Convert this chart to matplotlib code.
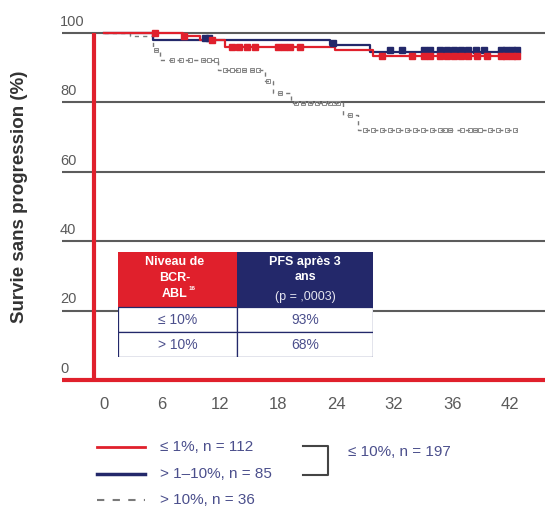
import numpy as np
import matplotlib
matplotlib.use("Agg")
import matplotlib.pyplot as plt
from matplotlib.patches import Rectangle
from matplotlib.lines import Line2D
import matplotlib.transforms as mtransforms

plt.rcParams['font.family'] = ['Liberation Sans', 'DejaVu Sans']

# ---------------- data ----------------
x_tick_pos = [0, 6, 12, 18, 24, 30, 36, 42]
x_tick_labels = ["0", "6", "12", "18", "24", "32", "36", "42"]
y_ticks = [0, 20, 40, 60, 80, 100]

red_t = [0, 8.2, 9.9, 12.5, 23.9, 27.8, 42.7]
red_s = [100, 99.0, 98.0, 96.0, 95.2, 93.4, 93.4]
blue_t = [0, 5.1, 23.4, 27.5, 42.7]
blue_s = [100, 98.0, 96.6, 94.6, 94.6]
gray_t = [0, 2.7, 5.1, 5.8, 11.8, 16.6, 17.5, 19.3, 24.7, 26.3, 42.7]
gray_s = [100, 99.0, 95.0, 92.2, 89.3, 86.2, 82.8, 79.8, 76.4, 72.0, 72.0]

red_cens = [5.3, 8.3, 11.2, 13.2, 14.0, 14.8, 15.6, 18.0, 18.6, 19.2, 20.3, 28.7,
            31.9, 33.1, 33.7, 34.7, 35.5, 36.2, 36.9, 37.6, 38.6, 39.6, 41.0, 41.6, 42.2, 42.7]
blue_cens = [10.4, 10.9, 23.7, 29.6, 30.8, 33.1, 33.7, 34.7, 35.5, 36.2, 36.9, 37.6,
             38.5, 39.3, 41.0, 41.6, 42.2, 42.7]
gray_cens = [5.4, 7.0, 8.0, 8.9, 10.2, 10.9, 11.6, 12.5, 13.2, 13.9, 14.5, 15.3, 15.9, 17.0,
             18.2, 19.9, 20.6, 21.3, 22.0, 22.8, 23.4, 23.8, 24.2, 25.4, 27.0, 27.8, 28.7,
             29.6, 30.4, 31.3, 32.2, 33.0, 33.9, 34.7, 35.3, 35.8, 37.0, 37.8, 38.4, 38.9,
             39.9, 40.7, 41.7, 42.5]

legend_labels = ["\u2264 1%, n = 112", "> 1\u201310%, n = 85", "> 10%, n = 36"]
bracket_label = "\u2264 10%, n = 197"

header_left = ["Niveau de", "BCR-", "ABL"]
header_left_sup = "16"
header_right = ["PFS apr\u00e8s 3", "ans", "(p = ,0003)"]
table_rows = [["\u2264 10%", "93%"], ["> 10%", "68%"]]

RED = "#e0202c"
NAVY = "#23286a"
GRAY = "#7a7a7a"
TXT = "#4b4f8c"

W, H = 545, 507
fig = plt.figure(figsize=(W / 100, H / 100), dpi=100)

def fx(px):
    return px / W

def fy(py):
    return 1 - py / H

ax = fig.add_axes([fx(62), fy(383), (545 - 62) / W, (383 - 28) / H])
ax.set_xlim(-4.34, 45.6)
ax.set_ylim(-0.86, 101.44)
for sp in ax.spines.values():
    sp.set_visible(False)

for yv in y_ticks[1:]:
    ax.axhline(yv, color="#5c5c5c", lw=1.5, zorder=1)
ax.axhline(0, color=RED, lw=3, zorder=5)
ax.plot([-1.03, -1.03], [0, 100], color=RED, lw=3, zorder=5, solid_capstyle='butt')

def step_val(t, s, x):
    idx = np.searchsorted(np.asarray(t), np.asarray(x), side='right') - 1
    return np.asarray(s)[idx]

ax.step(gray_t, gray_s, where='post', color=GRAY, lw=1.0, ls=(0, (3, 3)), zorder=3, clip_on=False)
ax.plot(gray_cens, step_val(gray_t, gray_s, gray_cens), ls='none', marker='s', ms=2.5,
        mfc='none', mec='#8a8a8a', mew=0.7, zorder=3)
ax.step(blue_t, blue_s, where='post', color=NAVY, lw=1.6, zorder=4, clip_on=False)
ax.step(red_t, red_s, where='post', color=RED, lw=1.6, zorder=4, clip_on=False)
ax.plot(blue_cens, step_val(blue_t, blue_s, blue_cens) + 0.5, ls='none', marker='s', ms=4.5,
        color=NAVY, zorder=4)
ax.plot(red_cens, step_val(red_t, red_s, red_cens), ls='none', marker='s', ms=4.5,
        color=RED, zorder=5)

ax.set_xticks(x_tick_pos)
ax.set_xticklabels(x_tick_labels, fontsize=12, color="#5a5a5a")
ax.tick_params(axis='x', length=0, pad=10)
ax.set_yticks([])

trans = mtransforms.blended_transform_factory(fig.transFigure, ax.transData)
for yv in y_ticks:
    ax.text(fx(60), yv + 1.2, str(yv), transform=trans, ha='left', va='bottom',
            fontsize=10.5, color="#5a5a5a")

fig.text(fx(20), fy(197), "Survie sans progression (%)", rotation=90, ha='center', va='center',
         fontsize=13.5, fontweight='bold', color="#333333")

# ---------------- table ----------------
tab = fig.add_axes([fx(118), fy(357), 255 / W, 105 / H])
tab.set_xlim(0, 255)
tab.set_ylim(105, 0)
tab.axis('off')
tab.add_patch(Rectangle((0, 0), 119, 55, facecolor=RED, edgecolor='none'))
tab.add_patch(Rectangle((119, 0), 136, 55, facecolor=NAVY, edgecolor='none'))
for r in range(2):
    for c, (x0, w) in enumerate([(0, 119), (119, 136)]):
        tab.add_patch(Rectangle((x0, 55 + 25 * r), w, 25, facecolor='white',
                                edgecolor=NAVY, lw=0.9))
        tab.text(x0 + w / 2, 55 + 25 * r + 12.5, table_rows[r][c], ha='center', va='center',
                 fontsize=10, color=TXT)
for i, (line, yy) in enumerate(zip(header_left, [10, 26, 42])):
    tab.text(57, yy, line, ha='center', va='center', fontsize=9,
             fontweight='bold', color='white')
tab.text(70.5, 36.5, header_left_sup, ha='left', va='center', fontsize=4.5, color='white',
         fontweight='bold')
for i, (line, yy) in enumerate(zip(header_right, [10, 25, 45])):
    tab.text(187, yy, line, ha='center', va='center', fontsize=9,
             fontweight='bold' if i < 2 else 'normal', color='white' if i < 2 else '#e6e6f0')

# ---------------- legend ----------------
leg_y = [447, 474, 500]
leg_styles = [dict(color=RED, lw=2), dict(color=NAVY, lw=2.5),
              dict(color=GRAY, lw=1.5, ls=(0, (3.5, 4)))]
for yy, lab, st in zip(leg_y, legend_labels, leg_styles):
    fig.add_artist(Line2D([fx(97), fx(145)], [fy(yy), fy(yy)], **st))
    fig.text(fx(160), fy(yy), lab, ha='left', va='center', fontsize=11, color=TXT)
fig.add_artist(Line2D([fx(303), fx(328), fx(328), fx(303)],
                      [fy(446), fy(446), fy(475), fy(475)], color="#444444", lw=1.5))
fig.text(fx(348), fy(452), bracket_label, ha='left', va='center', fontsize=11, color=TXT)

fig.savefig("out.png", dpi=100)
